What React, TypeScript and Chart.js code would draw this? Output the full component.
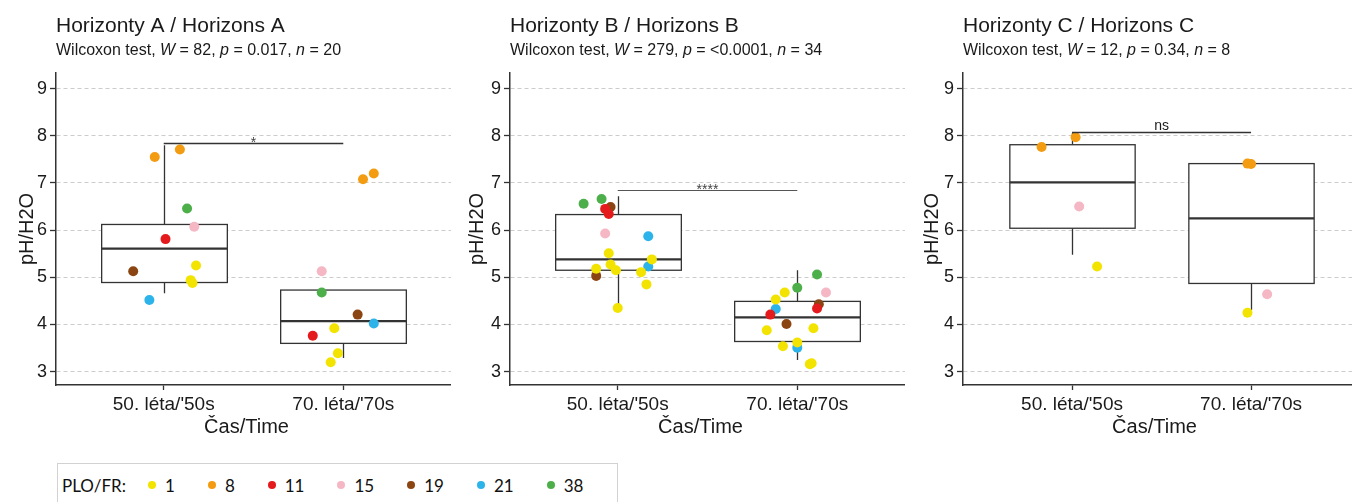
import React, { useEffect, useRef } from 'react';
import { Chart, registerables } from 'chart.js';

Chart.register(...registerables);

const FONT = '"Liberation Sans", Arial, Helvetica, sans-serif';
const LEGEND_FONT = 'Lato, "Open Sans", sans-serif';
const TEXT = '#1a1a1a';
const AXIS = '#333333';

const TIME_LABELS = ["50. léta/'50s", "70. léta/'70s"];
const X_TITLE = 'Čas/Time';
const Y_TITLE = 'pH/H2O';
const Y_TICKS = [3, 4, 5, 6, 7, 8, 9];
const LEGEND_TITLE = 'PLO/FR:';
const PLO_CODES = [1, 8, 11, 15, 19, 21, 38];
const PLO_COLORS = ['#F2E400', '#F39C12', '#E41A1C', '#F5B7C3', '#8B4513', '#2CB3EA', '#4DAF4A'];

// Horizons A: one entry per sample (time period 1 = 1950s, 2 = 1970s)
const A_CODE = [8, 8, 38, 15, 11, 19, 1, 1, 1, 21, 8, 8, 15, 38, 19, 21, 1, 11, 1, 1];
const A_TIME = [1, 1, 1, 1, 1, 1, 1, 1, 1, 1, 2, 2, 2, 2, 2, 2, 2, 2, 2, 2];
const A_JITTER = [-0.05, 0.09, 0.13, 0.17, 0.01, -0.17, 0.18, 0.15, 0.16, -0.08, 0.11, 0.17, -0.12, -0.12, 0.08, 0.17, -0.05, -0.17, -0.03, -0.07];
const A_PH = [7.55, 7.71, 6.46, 6.07, 5.81, 5.13, 5.25, 4.94, 4.88, 4.52, 7.08, 7.2, 5.13, 4.68, 4.21, 4.02, 3.92, 3.76, 3.39, 3.2];
// whisker low, Q1, median, Q3, whisker high
const A_BOXES = [
  [4.66, 4.89, 5.61, 6.12, 7.8],
  [3.29, 3.6, 4.07, 4.73, 4.73],
];
const A_STATS = ['82', '0.017', '20'];
const A_BRACKET = [7.85];
const A_SIGNIF = ['*'];

// Horizons B
const B_CODE = [38, 38, 11, 19, 11, 15, 21, 1, 1, 1, 1, 1, 21, 1, 19, 1, 1,
  38, 38, 15, 1, 1, 21, 19, 11, 11, 19, 1, 1, 1, 1, 21, 1, 1];
const B_TIME = [1, 1, 1, 1, 1, 1, 1, 1, 1, 1, 1, 1, 1, 1, 1, 1, 1,
  2, 2, 2, 2, 2, 2, 2, 2, 2, 2, 2, 2, 2, 2, 2, 2, 2];
const B_JITTER = [-0.19, -0.09, -0.07, -0.04, -0.05, -0.07, 0.17, -0.05, 0.19, -0.04, -0.12, -0.01, 0.17, 0.13, -0.12, 0.16, 0.0,
  0.11, 0.0, 0.16, -0.07, -0.12, -0.12, 0.12, 0.11, -0.15, -0.06, -0.17, 0.09, -0.08, 0.0, 0.0, 0.08, 0.07];
const B_PH = [6.56, 6.66, 6.45, 6.49, 6.34, 5.93, 5.87, 5.51, 5.38, 5.27, 5.18, 5.15, 5.23, 5.11, 5.03, 4.85, 4.35,
  5.06, 4.78, 4.68, 4.68, 4.53, 4.33, 4.43, 4.34, 4.21, 4.01, 3.88, 3.92, 3.54, 3.62, 3.51, 3.18, 3.16];
const B_BOXES = [
  [4.34, 5.15, 5.38, 6.33, 6.72],
  [3.25, 3.64, 4.15, 4.49, 5.15],
];
const B_STATS = ['279', '<0.0001', '34'];
const B_BRACKET = [6.85];
const B_SIGNIF = ['****'];

// Horizons C
const C_CODE = [8, 8, 15, 1, 8, 8, 15, 1];
const C_TIME = [1, 1, 1, 1, 2, 2, 2, 2];
const C_JITTER = [-0.17, 0.02, 0.04, 0.14, -0.02, 0.0, 0.09, -0.02];
const C_PH = [7.76, 7.97, 6.5, 5.23, 7.41, 7.4, 4.64, 4.25];
const C_BOXES = [
  [5.48, 6.04, 7.01, 7.81, 8.06],
  [4.31, 4.87, 6.25, 7.41, 7.41],
];
const C_STATS = ['12', '0.34', '8'];
const C_BRACKET = [8.07];
const C_SIGNIF = ['ns'];

const Y_MIN = 2.718;
const Y_MAX = 9.33;
const BOX_HALF = 0.35;
const CANVAS_H = 445;
const PLOT_TOP = 73;
const X_AXIS_H = 60;

type Panel = {
  title: string;
  code: number[];
  time: number[];
  jitter: number[];
  ph: number[];
  boxes: number[][];
  stats: string[];
  bracket: number[];
  signif: string[];
  left: number;
  width: number;
  axisWidth: number;
  xMin: number;
  xMax: number;
  bracketColor: string;
  bracketWidth: number;
};

const PANELS: Panel[] = [
  { title: 'Horizonty A / Horizons A', code: A_CODE, time: A_TIME, jitter: A_JITTER, ph: A_PH, boxes: A_BOXES, stats: A_STATS, bracket: A_BRACKET, signif: A_SIGNIF, left: 0, width: 451, axisWidth: 56, xMin: 0.4, xMax: 2.6, bracketColor: '#333', bracketWidth: 1.3 },
  { title: 'Horizonty B / Horizons B', code: B_CODE, time: B_TIME, jitter: B_JITTER, ph: B_PH, boxes: B_BOXES, stats: B_STATS, bracket: B_BRACKET, signif: B_SIGNIF, left: 450, width: 455, axisWidth: 60, xMin: 0.4, xMax: 2.6, bracketColor: '#555', bracketWidth: 1 },
  { title: 'Horizonty C / Horizons C', code: C_CODE, time: C_TIME, jitter: C_JITTER, ph: C_PH, boxes: C_BOXES, stats: C_STATS, bracket: C_BRACKET, signif: C_SIGNIF, left: 905, width: 447, axisWidth: 58, xMin: 0.391, xMax: 2.564, bracketColor: '#333', bracketWidth: 1.3 },
];

function panelDecor(p: Panel) {
  return {
    id: 'panelDecor',
    beforeDatasetsDraw(chart: any) {
      const { ctx } = chart;
      const x = chart.scales.x;
      const y = chart.scales.y;
      ctx.save();
      ctx.strokeStyle = AXIS;
      p.boxes.forEach(([lo, q1, med, q3, hi], i) => {
        const cx = Math.round(x.getPixelForValue(i + 1)) + 0.5;
        const half = x.getPixelForValue(i + 1 + BOX_HALF) - x.getPixelForValue(i + 1);
        const yLo = y.getPixelForValue(lo);
        const yQ1 = y.getPixelForValue(q1);
        const yMed = y.getPixelForValue(med);
        const yQ3 = y.getPixelForValue(q3);
        const yHi = y.getPixelForValue(hi);
        ctx.lineWidth = 1.3;
        ctx.beginPath();
        ctx.moveTo(cx, yQ3);
        ctx.lineTo(cx, yHi);
        ctx.moveTo(cx, yQ1);
        ctx.lineTo(cx, yLo);
        ctx.stroke();
        ctx.fillStyle = '#ffffff';
        ctx.fillRect(cx - half, yQ3, 2 * half, yQ1 - yQ3);
        ctx.strokeRect(cx - half, yQ3, 2 * half, yQ1 - yQ3);
        ctx.lineWidth = 2.2;
        ctx.beginPath();
        ctx.moveTo(cx - half, yMed);
        ctx.lineTo(cx + half, yMed);
        ctx.stroke();
      });
      ctx.restore();
    },
    afterDraw(chart: any) {
      const { ctx, chartArea } = chart;
      const x = chart.scales.x;
      const y = chart.scales.y;
      ctx.save();
      ctx.fillStyle = TEXT;
      ctx.textBaseline = 'alphabetic';

      // title and test summary
      ctx.textAlign = 'left';
      ctx.font = `21px ${FONT}`;
      ctx.fillText(p.title, chartArea.left, 32);
      const segs: [string, boolean][] = [
        ['Wilcoxon test, ', false], ['W', true], [` = ${p.stats[0]}, `, false],
        ['p', true], [` = ${p.stats[1]}, `, false], ['n', true], [` = ${p.stats[2]}`, false],
      ];
      let tx = chartArea.left;
      segs.forEach(([t, italic]) => {
        ctx.font = `${italic ? 'italic ' : ''}16px ${FONT}`;
        ctx.fillText(t, tx, 54.5);
        tx += ctx.measureText(t).width;
      });

      // axis titles
      const x1 = x.getPixelForValue(1);
      const x2 = x.getPixelForValue(2);
      ctx.font = `20px ${FONT}`;
      ctx.textAlign = 'center';
      ctx.fillText(X_TITLE, (x1 + x2) / 2 - 7, 433);
      ctx.save();
      ctx.translate(33, (chartArea.top + chartArea.bottom) / 2);
      ctx.rotate(-Math.PI / 2);
      ctx.fillText(Y_TITLE, 0, 0);
      ctx.restore();

      // comparison bracket
      p.bracket.forEach((v, i) => {
        const by = Math.round(y.getPixelForValue(v)) + 0.5;
        ctx.strokeStyle = p.bracketColor;
        ctx.lineWidth = p.bracketWidth;
        ctx.beginPath();
        ctx.moveTo(x1, by);
        ctx.lineTo(x2, by);
        ctx.stroke();
        const label = p.signif[i];
        const isStar = label.indexOf('*') >= 0;
        ctx.font = `14px ${FONT}`;
        ctx.fillStyle = isStar ? '#444' : TEXT;
        ctx.fillText(label, (x1 + x2) / 2, isStar ? by + 3 : by - 3);
      });
      ctx.restore();
    },
  };
}

function PanelChart({ p }: { p: Panel }) {
  const ref = useRef<HTMLCanvasElement | null>(null);
  useEffect(() => {
    if (!ref.current) return;
    const datasets = PLO_CODES.map((code, ci) => ({
      label: String(code),
      data: p.code
        .map((c, i) => ({ c, x: p.time[i] + p.jitter[i], y: p.ph[i] }))
        .filter((d) => d.c === code)
        .map((d) => ({ x: d.x, y: d.y })),
      backgroundColor: PLO_COLORS[ci],
      borderWidth: 0,
      pointRadius: 5,
      pointHoverRadius: 5,
    }));
    const chart = new Chart(ref.current, {
      type: 'scatter',
      data: { datasets },
      options: {
        animation: false,
        responsive: false,
        devicePixelRatio: 1,
        events: [],
        layout: { autoPadding: false, padding: { top: PLOT_TOP, right: 0, bottom: 0, left: 0 } },
        plugins: { legend: { display: false }, tooltip: { enabled: false }, title: { display: false } },
        scales: {
          x: {
            type: 'linear',
            min: p.xMin,
            max: p.xMax,
            afterBuildTicks: (s: any) => {
              s.ticks = [1, 2].map((value) => ({ value }));
            },
            afterFit: (s: any) => {
              s.height = X_AXIS_H;
              s.paddingLeft = 0;
              s.paddingRight = 0;
            },
            ticks: {
              callback: (v: any) => TIME_LABELS[Math.round(Number(v)) - 1] ?? '',
              font: { family: FONT, size: 19 },
              color: TEXT,
              padding: 3,
              maxRotation: 0,
              autoSkip: false,
            },
            grid: { drawOnChartArea: false, drawTicks: true, tickLength: 5, tickColor: AXIS, tickWidth: 1.3 },
            border: { display: true, color: AXIS, width: 1.5 },
          },
          y: {
            type: 'linear',
            min: Y_MIN,
            max: Y_MAX,
            afterBuildTicks: (s: any) => {
              s.ticks = Y_TICKS.map((value) => ({ value }));
            },
            afterFit: (s: any) => {
              s.width = p.axisWidth;
              s.paddingTop = 0;
              s.paddingBottom = 0;
            },
            ticks: { font: { family: FONT, size: 18 }, color: TEXT, padding: 3 },
            grid: { color: '#cccccc', lineWidth: 1, drawTicks: true, tickLength: 6, tickColor: AXIS, tickWidth: 1.3 },
            border: { display: true, color: AXIS, width: 1.5, dash: [4, 3] },
          },
        },
      },
      plugins: [panelDecor(p)],
    } as any);
    return () => chart.destroy();
  }, [p]);
  return (
    <canvas
      ref={ref}
      width={p.width}
      height={CANVAS_H}
      style={{ position: 'absolute', left: p.left, top: 0, width: p.width, height: CANVAS_H }}
    />
  );
}

function Legend() {
  return (
    <div
      style={{
        position: 'absolute',
        left: 57,
        top: 463,
        width: 561,
        height: 60,
        border: '1px solid #d2d2d2',
        boxSizing: 'border-box',
        fontFamily: LEGEND_FONT,
        fontSize: 17,
        color: '#111',
      }}
    >
      <div style={{ position: 'absolute', left: 4, top: 10, height: 22, display: 'flex', alignItems: 'center', whiteSpace: 'nowrap' }}>
        <span style={{ marginRight: 22 }}>{LEGEND_TITLE}</span>
        {PLO_CODES.map((code, i) => (
          <span key={code} style={{ display: 'inline-flex', alignItems: 'center', marginRight: 33 }}>
            <span style={{ width: 8, height: 8, borderRadius: 4, background: PLO_COLORS[i], marginRight: 9, display: 'inline-block' }} />
            <span>{code}</span>
          </span>
        ))}
      </div>
    </div>
  );
}

export default function App() {
  return (
    <div style={{ position: 'absolute', left: 0, top: 0, width: 1352, height: 502, overflow: 'hidden', background: '#ffffff' }}>
      {PANELS.map((p) => (
        <PanelChart key={p.title} p={p} />
      ))}
      <Legend />
    </div>
  );
}
